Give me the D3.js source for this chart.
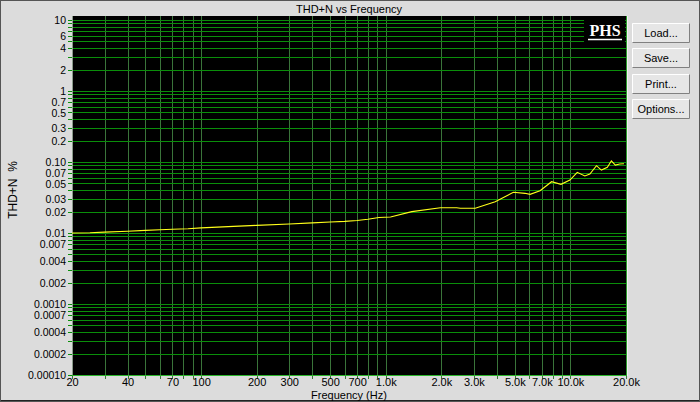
<!DOCTYPE html>
<html><head><meta charset="utf-8">
<script src="https://cdn.jsdelivr.net/npm/d3@7"></script>
<style>
html,body{margin:0;padding:0;background:#dcdcdc;}
svg{display:block;font-family:"Liberation Sans",Arial,sans-serif;}
</style></head>
<body><svg id="c" width="700" height="402"></svg>
<script>
const freqHz = [20,25,30,40,50,60,70,85,100,150,200,300,400,500,600,700,800,918,1062,1384,1977,2420,2535,3053,3916,4910,5680,6045,6847,7907,8890,9935,10890,11970,12740,13840,14720,15850,16670,17510,18500,19500];
const thdPct = [0.0100,0.0101,0.0103,0.0106,0.0109,0.0111,0.0113,0.0115,0.0118,0.0124,0.0128,0.0134,0.0139,0.0143,0.0146,0.0150,0.0156,0.0165,0.0168,0.0200,0.0227,0.0227,0.0223,0.0223,0.0276,0.0374,0.0362,0.0350,0.0394,0.0528,0.0485,0.0557,0.0716,0.0635,0.0678,0.0887,0.0770,0.0843,0.1040,0.0906,0.0935,0.0945];
const xTickVals = [20,40,70,100,200,300,500,700,1000,2000,3000,5000,7000,10000,20000];
const xTickLabels = ["20","40","70","100","200","300","500","700","1.0k","2.0k","3.0k","5.0k","7.0k","10.0k","20.0k"];
const yTickVals = [10,6,4,2,1,0.7,0.5,0.3,0.2,0.1,0.07,0.05,0.03,0.02,0.01,0.007,0.004,0.002,0.001,0.0007,0.0004,0.0002,0.0001];
const yTickLabels = ["10","6","4","2","1","0.7","0.5","0.3","0.2","0.10","0.07","0.05","0.03","0.02","0.01","0.007","0.004","0.002","0.0010","0.0007","0.0004","0.0002","0.00010"];
const buttons = ["Load...","Save...","Print...","Options..."];

const svg = d3.select("#c");
const L=72, R=626, T=16, B=375;
const x = d3.scaleLog().domain([20,20000]).range([L,R]);
const y = d3.scaleLog().domain([0.0001,10]).range([B,20]);
const FS = 11;

// outer frame
svg.append("rect").attr("x",0.5).attr("y",0.5).attr("width",699).attr("height",401)
  .attr("fill","#dcdcdc").attr("stroke","#555");
svg.append("line").attr("x1",1).attr("x2",699).attr("y1",400.5).attr("y2",400.5).attr("stroke","#222");

// title
svg.append("text").attr("x",349).attr("y",13).attr("text-anchor","middle")
  .attr("font-size",FS).attr("fill","#000").text("THD+N vs Frequency");

// plot bg
svg.append("rect").attr("x",L).attr("y",T).attr("width",R-L).attr("height",B-T).attr("fill","#000");

// grid values
const gridX=[]; for(let d=10;d<=10000;d*=10){for(let m=1;m<=9;m++){const v=m*d; if(v>=20&&v<=20000) gridX.push(v);} } gridX.push(20000);
const gridY=[]; for(let d=0.0001;d<=1.5;d*=10){for(let m=1;m<=9;m++) gridY.push(+(m*d).toPrecision(3));} gridY.push(10);

const g = svg.append("g");
g.selectAll("line.gx").data(gridX).join("line")
  .attr("x1",d=>Math.round(x(d))+0.5).attr("x2",d=>Math.round(x(d))+0.5)
  .attr("y1",T).attr("y2",B+4).attr("stroke","#3a743a").attr("stroke-width",1);
g.selectAll("line.gy").data(gridY).join("line")
  .attr("y1",d=>Math.round(y(d))+0.5).attr("y2",d=>Math.round(y(d))+0.5)
  .attr("x1",L-4).attr("x2",R).attr("stroke","#0a8e0a").attr("stroke-width",1);

// borders
svg.append("line").attr("x1",L+0.5).attr("x2",L+0.5).attr("y1",T).attr("y2",B+1).attr("stroke","#8a9a8a");
svg.append("line").attr("x1",L).attr("x2",R).attr("y1",B+0.5).attr("y2",B+0.5).attr("stroke","#2ab52a");
svg.append("line").attr("x1",R+0.5).attr("x2",R+0.5).attr("y1",T).attr("y2",B+1).attr("stroke","#2a9a2a");
svg.append("line").attr("x1",R+1.5).attr("x2",R+1.5).attr("y1",T).attr("y2",B+1).attr("stroke","#f0f0f0");

// axes labels
const xAxis = d3.axisBottom(x).tickValues(xTickVals).tickFormat((d,i)=>xTickLabels[i]).tickSize(0).tickPadding(2);
const xa = svg.append("g").attr("transform",`translate(0,${B+1})`).call(xAxis);
xa.select(".domain").remove();
xa.selectAll("text").attr("font-size",FS).attr("fill","#000").attr("font-family","Liberation Sans, Arial, sans-serif");

const yAxis = d3.axisLeft(y).tickValues(yTickVals).tickFormat((d,i)=>yTickLabels[i]).tickSize(0).tickPadding(6);
const ya = svg.append("g").attr("transform",`translate(${L},0)`).call(yAxis);
ya.select(".domain").remove();
ya.selectAll("text").attr("font-size",10.5).attr("fill","#000").attr("font-family","Liberation Sans, Arial, sans-serif")
  .attr("y",(d,i)=>(yTickLabels[i]==="0.5"||yTickLabels[i]==="0.05")?1.2:0);

svg.append("text").attr("x",349).attr("y",399).attr("text-anchor","middle").attr("font-size",FS).text("Frequency (Hz)");
svg.append("text").attr("transform","translate(17,190) rotate(-90)").attr("text-anchor","middle")
  .attr("font-size",12).attr("xml:space","preserve").text("THD+N  %");

// data line
const line = d3.line().x(d=>x(d[0])).y(d=>y(d[1]));
svg.append("path").datum(freqHz.map((f,i)=>[f,thdPct[i]]))
  .attr("d",line).attr("fill","none").attr("stroke","#ffff1a").attr("stroke-width",1.1);

// PHS logo
svg.append("rect").attr("x",584).attr("y",18).attr("width",41).attr("height",24).attr("fill","#000");
svg.append("text").attr("x",605).attr("y",36).attr("text-anchor","middle")
  .attr("font-family","Liberation Serif, Times New Roman, serif").attr("font-weight","bold")
  .attr("font-size",16).attr("fill","#fff").text("PHS");
svg.append("line").attr("x1",588).attr("x2",622).attr("y1",39.5).attr("y2",39.5).attr("stroke","#fff").attr("stroke-width",1.5);

// buttons
const btnY=[23,48,74,99];
const bg = svg.selectAll("g.btn").data(buttons).join("g").attr("transform",(d,i)=>`translate(632,${btnY[i]})`);
bg.append("rect").attr("x",0).attr("y",0).attr("width",58).attr("height",20).attr("fill","#e6e6e6");
bg.append("path").attr("d","M0.5,19.5 V0.5 H57.5").attr("fill","none").attr("stroke","#ffffff");
bg.append("path").attr("d","M0.5,19.5 H57.5 V0.5").attr("fill","none").attr("stroke","#808080");
bg.append("text").attr("x",29).attr("y",14).attr("text-anchor","middle").attr("font-size",FS).text(d=>d);
</script></body></html>
